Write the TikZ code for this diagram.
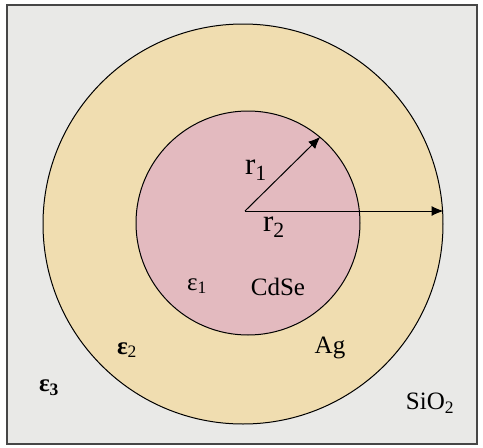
\documentclass[tikz,border=0pt]{standalone}
\usepackage{fontspec}
\setmainfont{Liberation Serif}
\usetikzlibrary{arrows.meta}
\definecolor{figGround}{RGB}{233,233,231}
\definecolor{figShell}{RGB}{240,221,176}
\definecolor{figCore}{RGB}{227,186,191}
\definecolor{figFrame}{RGB}{70,70,70}

\begin{document}
\begin{tikzpicture}[x=1pt,y=-1pt,>={Latex[length=12pt,width=10pt]},
  lbl/.style={font=\fontsize{25}{28}\selectfont,inner sep=0pt},
  rlbl/.style={font=\fontsize{31}{34}\selectfont,inner sep=0pt},
  ball/.style={circle,draw,line width=1pt,inner sep=0pt}]
\useasboundingbox (0,0) rectangle (483,448);
\fill[white] (0,0) rectangle (483,448);
% SiO2 matrix
\draw[figFrame,line width=1.8pt,fill=figGround] (7,5) rectangle (477,444);
% Ag shell, CdSe core
\node[ball,fill=figShell,minimum size=400pt] (shell) at (243,224) {};
\node[ball,fill=figCore,minimum size=224pt] (core) at (248,223) {};
\coordinate (o) at (245,211);
% radii
\draw[->,line width=1pt] (o)--(core.50);
\draw[->,line width=1pt] (o)--(o -| shell.east);
\node[rlbl] (r1) at (256,170) {r\textsubscript{1}};
\node[rlbl] (r2) at (274,227) {r\textsubscript{2}};
% media
\node[lbl] (e1) at (197,286) {ε\textsubscript{1}};
\node[lbl] (cdse) at (278,287) {CdSe};
\node[lbl] (e2) at (127,350) {\textbf{ε}\textsubscript{2}};
\node[lbl] (ag) at (330,348) {Ag};
\node[lbl] (e3) at (49,388) {\textbf{ε\textsubscript{3}}};
\node[lbl] (sio2) at (430,403) {SiO\textsubscript{2}};
\end{tikzpicture}
\end{document}
